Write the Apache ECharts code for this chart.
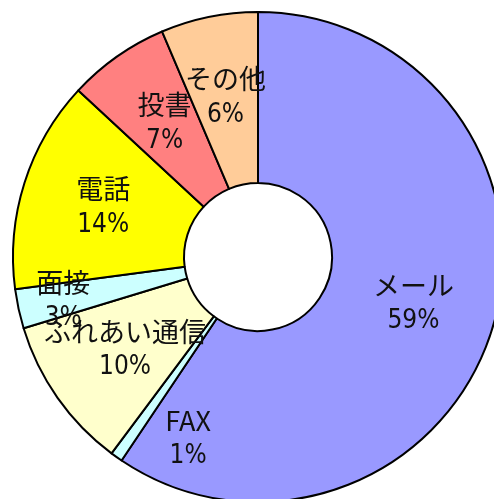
<!DOCTYPE html>
<html>
<head>
<meta charset="utf-8">
<script src="https://cdn.jsdelivr.net/npm/echarts@6/dist/echarts.min.js"></script>
<style>
  html, body { margin: 0; padding: 0; background: #fff; }
  #chart { width: 494px; height: 499px; }
</style>
</head>
<body>
<div id="chart"></div>
<script>
// 問い合わせ手段の内訳 (%)
const categories = ['メール', 'FAX', 'ふれあい通信', '面接', '電話', '投書', 'その他']
const shares = [59.4, 0.8, 10.1, 2.6, 14.0, 6.7, 6.4]
const sliceColors = ['#9999ff', '#ccffff', '#ffffcc', '#ccffff', '#ffff00', '#ff8080', '#ffcc99']

// ラベルを手動で動かしたもの
const labelShift = {
  'FAX': [24, 50],
  '面接': [-36, 10],
}

const chart = echarts.init(document.getElementById('chart'))

chart.setOption({
  animation: false,
  backgroundColor: '#fff',
  series: [
    {
      type: 'pie',
      center: [258, 257],
      radius: [74, 245],
      startAngle: 90,
      clockwise: true,
      avoidLabelOverlap: false,
      data: categories.map((name, i) => ({
        name,
        value: shares[i],
        itemStyle: { color: sliceColors[i] },
      })),
      itemStyle: {
        borderColor: '#000',
        borderWidth: 2,
      },
      label: {
        show: true,
        position: 'inside',
        color: '#000',
        align: 'center',
        formatter: (p) => '{n|' + p.name + '}\n{p|' + Math.round(p.percent) + '%}',
        rich: {
          n: {
            fontFamily: '"Noto Sans CJK JP", sans-serif',
            fontSize: 27,
            lineHeight: 34,
            color: '#111',
            align: 'center',
          },
          p: {
            fontFamily: '"DejaVu Sans Condensed", "Liberation Sans Narrow", sans-serif',
            fontSize: 26,
            lineHeight: 38,
            color: '#111',
            align: 'center',
          },
        },
      },
      labelLine: { show: false },
      labelLayout: (p) => {
        const s = labelShift[categories[p.dataIndex]]
        return s ? { dx: s[0], dy: s[1] } : {}
      },
      emphasis: { disabled: true },
    },
  ],
})
</script>
</body>
</html>
